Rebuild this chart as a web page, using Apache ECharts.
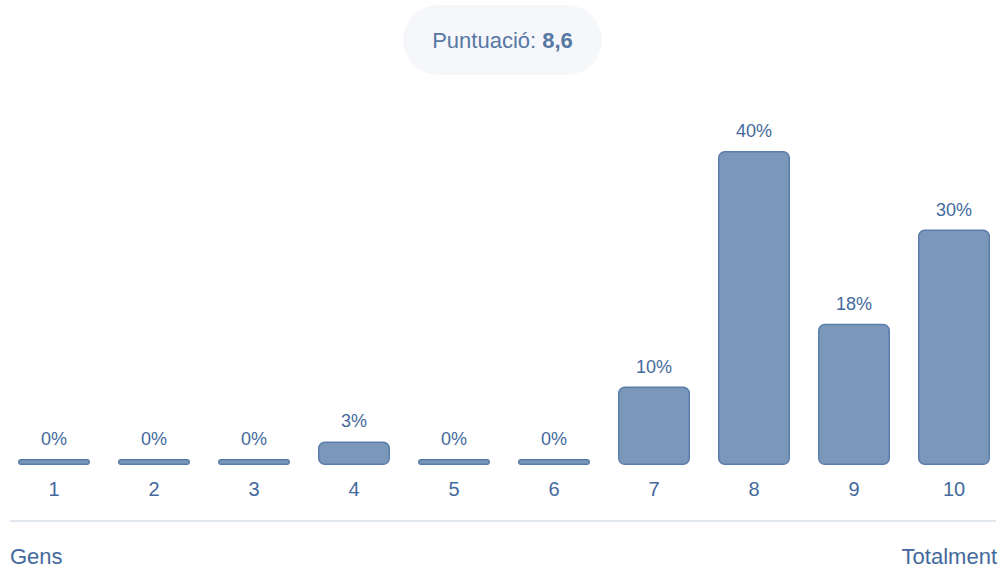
<!DOCTYPE html>
<html>
<head>
<meta charset="utf-8">
<script src="https://cdn.jsdelivr.net/npm/echarts@6/dist/echarts.min.js"></script>
<style>
  html, body { margin: 0; padding: 0; background: #fff; }
  #chart { width: 1005px; height: 571px; }
</style>
</head>
<body>
<div id="chart"></div>
<script>
const categories = ["1", "2", "3", "4", "5", "6", "7", "8", "9", "10"];
const percents = [0, 0, 0, 3, 0, 0, 10, 40, 18, 30];
const scoreLabel = "Puntuació:";
const scoreValue = "8,6";
const leftEnd = "Gens";
const rightEnd = "Totalment";

const font = "'Liberation Sans', Arial, sans-serif";
const textBlue = "#44699c";

const chart = echarts.init(document.getElementById("chart"), null, { renderer: "svg" });

chart.setOption({
  animation: false,
  textStyle: { fontFamily: font },
  title: {
    text: "{a|" + scoreLabel + " }{b|" + scoreValue + "}",
    left: "center",
    top: 5,
    backgroundColor: "#f5f7fa",
    borderRadius: 35,
    padding: [24, 29],
    textStyle: {
      fontWeight: "normal",
      rich: {
        a: { fontSize: 22, color: "#5878a4", fontWeight: "normal", fontFamily: font },
        b: { fontSize: 22, color: "#5878a4", fontWeight: "bold", fontFamily: font }
      }
    }
  },
  grid: { left: 4, right: 1, top: 151, bottom: 106, containLabel: false },
  xAxis: {
    type: "category",
    data: categories,
    axisLine: { show: false },
    axisTick: { show: false },
    axisLabel: { fontSize: 20, color: textBlue, margin: 14, fontFamily: font }
  },
  yAxis: {
    type: "value",
    min: 0,
    max: 40,
    show: false
  },
  graphic: [
    {
      type: "line",
      shape: { x1: 10, y1: 521, x2: 996, y2: 521 },
      style: { stroke: "#e3e8ee", lineWidth: 2 }
    },
    {
      type: "text",
      left: 10,
      top: 545,
      style: { text: leftEnd, fontSize: 22, fill: textBlue, fontFamily: font }
    },
    {
      type: "text",
      right: 8,
      top: 545,
      style: { text: rightEnd, fontSize: 22, fill: textBlue, fontFamily: font }
    }
  ],
  series: [
    {
      type: "bar",
      data: percents,
      barWidth: 72,
      barMinHeight: 6,
      itemStyle: {
        color: "#7b98bb",
        borderColor: "#5b7dab",
        borderWidth: 1.5,
        borderRadius: 6
      },
      label: {
        show: true,
        position: "top",
        distance: 11,
        formatter: "{c}%",
        fontSize: 18,
        color: textBlue,
        fontFamily: font
      }
    }
  ]
});
</script>
</body>
</html>
